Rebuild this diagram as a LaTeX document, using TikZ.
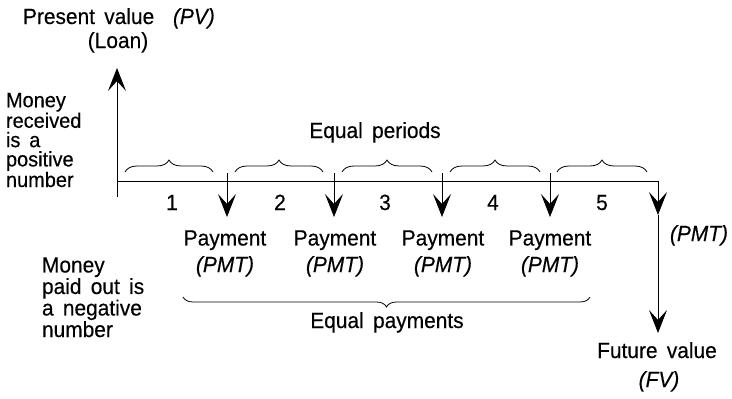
\documentclass[tikz,border=0pt]{standalone}
\usepackage{fontspec}
\setmainfont{Liberation Sans}[FakeStretch=0.95, WordSpace=1.6, FakeBold=0.3]
\usetikzlibrary{arrows.meta,decorations.pathreplacing}
\begin{document}
\begin{tikzpicture}[x=1pt,y=-1pt,
  every node/.style={font=\fontsize{22}{20}\selectfont, inner sep=0pt, outer sep=0pt},
  line/.style={line width=0.8pt},
  arr/.style={line width=0.8pt, -{Stealth[length=23pt,width=18pt,inset=10pt]}},
  pbrace/.style={line width=0.8pt, decorate, decoration={brace, amplitude=12pt}},
  qbrace/.style={line width=0.8pt, decorate, decoration={brace, amplitude=10pt}}]
\useasboundingbox (0,0) rectangle (732,399);

% top labels
\node[anchor=base west] (pv) at (23,24) {Present value};
\node[anchor=base west] (pvi) at (173,24) {\itshape (PV)};
\node[anchor=base] (loan) at (118,48) {(Loan)};

% left blocks (base anchor = last line)
\node[anchor=base west, align=left, font=\fontsize{21}{19.3}\selectfont] (recv) at (6,187) {Money\\received\\is a\\positive\\number};
\node[anchor=base west, align=left] (paid) at (42,337) {Money\\paid out is\\a negative\\number};

% timeline
\coordinate (ub) at (117,197);
\coordinate (ut) at (117,68);
\coordinate (t0) at (117,181);
\coordinate (t5) at (658,181);
\draw[arr] (ub) -- (ut);
\draw[line] (t0) -- (t5);

% period braces
\coordinate (b1a) at (125,172); \coordinate (b1b) at (213,172);
\coordinate (b2a) at (235,172); \coordinate (b2b) at (323,172);
\coordinate (b3a) at (342,172); \coordinate (b3b) at (432,172);
\coordinate (b4a) at (450,172); \coordinate (b4b) at (540,172);
\coordinate (b5a) at (557,172); \coordinate (b5b) at (647,172);
\foreach \i in {1,...,5} \draw[pbrace] (b\i a) -- (b\i b);
\node[anchor=base] (eqp) at (375,138) {Equal periods};

% numbers
\node[anchor=base] (n1) at (172,210) {1};
\node[anchor=base] (n2) at (280,210) {2};
\node[anchor=base] (n3) at (385,210) {3};
\node[anchor=base] (n4) at (493,210) {4};
\node[anchor=base] (n5) at (602,210) {5};

% payment arrows
\foreach \x [count=\i] in {227,334,442,550} {
  \coordinate (a\i s) at (\x,173);
  \coordinate (a\i e) at (\x,217);
  \draw[arr] (a\i s) -- (a\i e);
}
\coordinate (m5) at (658,215);
\coordinate (fvt) at (658,333);
\draw[arr] (t5) -- (m5);
\draw[arr] (m5) -- (fvt);

% payment labels (base anchor = last line)
\foreach \x [count=\i] in {225,335,443,550} {
  \node[anchor=base, align=center] (p\i) at (\x,272) {Payment\\[5pt]\itshape (PMT)};
}
\node[anchor=base] (pmt5) at (699,241) {\itshape (PMT)};

% equal payments brace
\coordinate (qa) at (590,297);
\coordinate (qb) at (183,297);
\draw[qbrace] (qa) -- (qb);
\node[anchor=base] (eqpay) at (387,328) {Equal payments};

% future value
\node[anchor=base] (fv) at (657,358) {Future value};
\node[anchor=base] (fvi) at (659,387) {\itshape (FV)};
\end{tikzpicture}
\end{document}
